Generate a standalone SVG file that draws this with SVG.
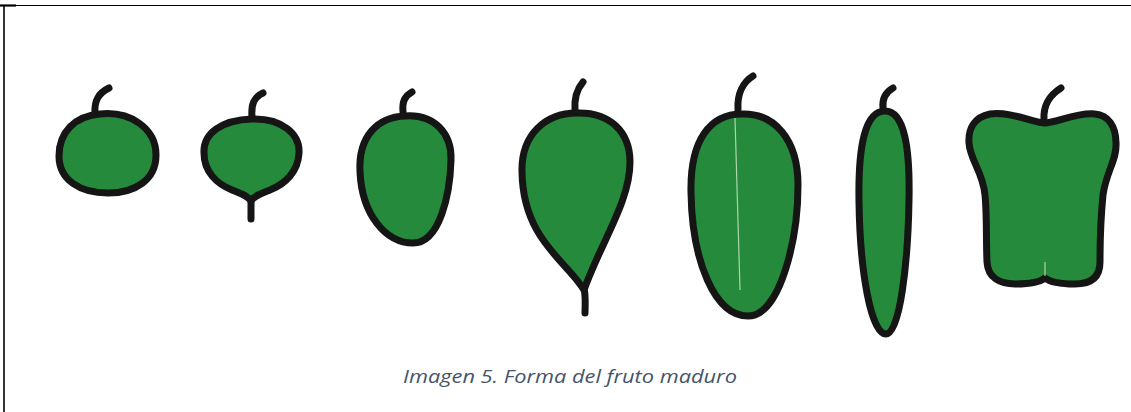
<svg xmlns="http://www.w3.org/2000/svg" width="1131" height="412" viewBox="0 0 1131 412">
<style>
.body{fill:#258A3B;stroke:#151515;stroke-width:7;stroke-linejoin:round}
.stem{fill:none;stroke:#151515;stroke-width:7;stroke-linecap:round}
.vein{fill:none;stroke:#cfe8c8;stroke-width:1.2;opacity:0.8}
.cap{font-family:"Open Sans","Liberation Sans",sans-serif;font-style:italic;font-size:19px;fill:#44546A}
</style>
<rect width="1131" height="412" fill="#fff"/>
<g id="frame">
<line x1="0" y1="5.5" x2="1131" y2="5.5" stroke="#000" stroke-width="1.2"/>
<line x1="0" y1="5.5" x2="16" y2="5.5" stroke="#000" stroke-width="2.2"/>
<line x1="4" y1="5" x2="4" y2="412" stroke="#000" stroke-width="1.6"/>
</g>
<g id="fruit1">
<path class="stem" d="M95 114 C94 100 99 93 109 88"/>
<path class="body" d="M100 114 C130 111 156 128 156 155 C156 180 135 193 108 193 C80 193 59 180 59 156 C59 132 75 116 100 114 Z"/>
</g>
<g id="fruit2">
<path class="stem" d="M252 117 C251 104 254 97 263 93"/>
<path class="stem" d="M251 199 L251 219"/>
<path class="body" d="M252 119 C282 118 300 134 299 153 C298 172 285 184 270 190 C260 194 254 196 251 201 C248 196 242 194 232 190 C217 184 204 172 204 153 C203 133 222 120 252 119 Z"/>
</g>
<g id="fruit3">
<path class="stem" d="M403 112 C402 101 405 96 412 92"/>
<path class="body" d="M405 116 C435 114 452 134 451 160 C450 194 440 243 413 243 C386 243 362 215 360 172 C358 136 378 117 405 116 Z"/>
</g>
<g id="fruit4">
<path class="stem" d="M575 111 C574 98 577 89 583 82"/>
<path class="stem" d="M584 288 C586 298 585 306 585 313"/>
<path class="body" d="M577 113 C610 112 630 132 630 162 C630 202 601 242 584 290 C568 262 523 240 522 172 C521 135 545 113 577 113 Z"/>
</g>
<g id="fruit5">
<path class="stem" d="M738 110 C737 94 743 82 753 76"/>
<path class="body" d="M742 114 C775 113 798 140 798 185 C798 240 780 316 748 316 C715 316 692 262 691 192 C690 140 710 114 742 114 Z"/>
<path class="vein" d="M735 118 L740 290"/>
</g>
<g id="fruit6">
<path class="stem" d="M883 108 C882 98 886 92 893 88"/>
<path class="body" d="M885 111 C905 111 910 150 909 200 C908 262 900 334 886 334 C871 334 860 272 859 202 C858 146 865 111 885 111 Z"/>
</g>
<g id="fruit7">
<path class="stem" d="M1044 120 C1043 104 1050 95 1061 88"/>
<path class="body" d="M1045 123 C1035 123 1010 111 990 114 C975 117 968 128 969 143 C970 160 983 172 985 195 C987 215 986 240 987 262 C988 278 1000 284 1015 284 C1030 284 1040 282 1045 278 C1050 282 1060 284 1075 284 C1090 284 1100 278 1100 262 C1100 240 1101 215 1103 195 C1106 172 1117 160 1116 143 C1116 126 1108 115 1095 114 C1078 112 1055 123 1045 123 Z"/>
<path class="vein" d="M1045 262 L1045 276"/>
</g>
<text class="cap" x="570" y="383" text-anchor="middle" textLength="334" lengthAdjust="spacingAndGlyphs">Imagen 5. Forma del fruto maduro</text>
</svg>
